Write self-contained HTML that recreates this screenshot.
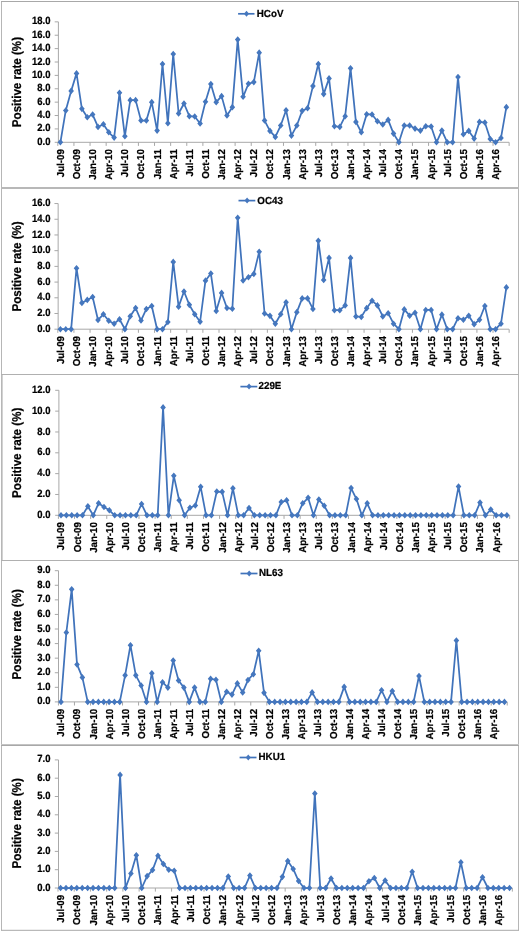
<!DOCTYPE html>
<html><head><meta charset="utf-8"><title>HCoV positive rates</title>
<style>
html,body{margin:0;padding:0;background:#fff;}
svg{will-change:transform;filter:blur(0.35px);}
svg text{text-rendering:geometricPrecision;stroke:#000;stroke-width:0.22px;stroke-linejoin:round;}
body{width:520px;height:932px;overflow:hidden;font-family:"Liberation Sans",sans-serif;}
</style></head><body>
<svg width="520" height="932" viewBox="0 0 520 932" style="display:block">
<rect x="0" y="0" width="520" height="932" fill="#fff"/>
<path d="M1.5 1.5V930.3M518.5 1.5V930.3" fill="none" stroke="#b6b6b6" stroke-width="1"/>
<path d="M1 1.5H519M1 930.3H519" fill="none" stroke="#a8a8a8" stroke-width="1"/>
<g stroke="#b8b8b8">
<line x1="1" x2="519" y1="188" y2="188" stroke-width="2"/>
<line x1="1" x2="519" y1="374.5" y2="374.5" stroke-width="1.2" stroke="#b0b0b0"/>
<line x1="1" x2="519" y1="560.5" y2="560.5" stroke-width="1.2" stroke="#b0b0b0"/>
<line x1="1" x2="519" y1="744.5" y2="744.5" stroke-width="1" stroke="#c4c4c4"/>
<line x1="1" x2="519" y1="745.5" y2="745.5" stroke-width="1" stroke="#a8a8a8"/>
<line x1="2.4" x2="2.4" y1="375" y2="560" stroke-width="0.9" stroke="#c6c6c6"/>
</g>
<g>
<path d="M58.40 21.85V142.30M57.90 142.30H509.05M54.70 142.30H58.40M54.70 128.92H58.40M54.70 115.53H58.40M54.70 102.15H58.40M54.70 88.77H58.40M54.70 75.38H58.40M54.70 62.00H58.40M54.70 48.62H58.40M54.70 35.23H58.40M54.70 21.85H58.40M57.81 142.30V145.90M73.93 142.30V145.90M90.05 142.30V145.90M106.17 142.30V145.90M122.29 142.30V145.90M138.41 142.30V145.90M154.53 142.30V145.90M170.65 142.30V145.90M186.77 142.30V145.90M202.88 142.30V145.90M219.00 142.30V145.90M235.12 142.30V145.90M251.24 142.30V145.90M267.36 142.30V145.90M283.48 142.30V145.90M299.60 142.30V145.90M315.72 142.30V145.90M331.84 142.30V145.90M347.96 142.30V145.90M364.07 142.30V145.90M380.19 142.30V145.90M396.31 142.30V145.90M412.43 142.30V145.90M428.55 142.30V145.90M444.67 142.30V145.90M460.79 142.30V145.90M476.91 142.30V145.90M493.03 142.30V145.90M509.15 142.30V145.90" fill="none" stroke="#a8a8a8" stroke-width="1"/>
<g font-family="'Liberation Sans', sans-serif" font-weight="bold" font-size="9.45" fill="#000" text-anchor="end">
<text transform="translate(50.4 144.85) scale(1 1.11)">0.0</text>
<text transform="translate(50.4 131.47) scale(1 1.11)">2.0</text>
<text transform="translate(50.4 118.08) scale(1 1.11)">4.0</text>
<text transform="translate(50.4 104.70) scale(1 1.11)">6.0</text>
<text transform="translate(50.4 91.32) scale(1 1.11)">8.0</text>
<text transform="translate(50.4 77.93) scale(1 1.11)">10.0</text>
<text transform="translate(50.4 64.55) scale(1 1.11)">12.0</text>
<text transform="translate(50.4 51.17) scale(1 1.11)">14.0</text>
<text transform="translate(50.4 37.78) scale(1 1.11)">16.0</text>
<text transform="translate(50.4 24.40) scale(1 1.11)">18.0</text>
</g>
<g font-family="'Liberation Sans', sans-serif" font-weight="bold" font-size="9.7" fill="#000" text-anchor="end">
<text transform="translate(63.85 149.15) rotate(-90) scale(1 1.04)">Jul-09</text>
<text transform="translate(79.97 149.15) rotate(-90) scale(1 1.04)">Oct-09</text>
<text transform="translate(96.09 149.15) rotate(-90) scale(1 1.04)">Jan-10</text>
<text transform="translate(112.21 149.15) rotate(-90) scale(1 1.04)">Apr-10</text>
<text transform="translate(128.33 149.15) rotate(-90) scale(1 1.04)">Jul-10</text>
<text transform="translate(144.44 149.15) rotate(-90) scale(1 1.04)">Oct-10</text>
<text transform="translate(160.56 149.15) rotate(-90) scale(1 1.04)">Jan-11</text>
<text transform="translate(176.68 149.15) rotate(-90) scale(1 1.04)">Apr-11</text>
<text transform="translate(192.80 149.15) rotate(-90) scale(1 1.04)">Jul-11</text>
<text transform="translate(208.92 149.15) rotate(-90) scale(1 1.04)">Oct-11</text>
<text transform="translate(225.04 149.15) rotate(-90) scale(1 1.04)">Jan-12</text>
<text transform="translate(241.16 149.15) rotate(-90) scale(1 1.04)">Apr-12</text>
<text transform="translate(257.28 149.15) rotate(-90) scale(1 1.04)">Jul-12</text>
<text transform="translate(273.40 149.15) rotate(-90) scale(1 1.04)">Oct-12</text>
<text transform="translate(289.52 149.15) rotate(-90) scale(1 1.04)">Jan-13</text>
<text transform="translate(305.63 149.15) rotate(-90) scale(1 1.04)">Apr-13</text>
<text transform="translate(321.75 149.15) rotate(-90) scale(1 1.04)">Jul-13</text>
<text transform="translate(337.87 149.15) rotate(-90) scale(1 1.04)">Oct-13</text>
<text transform="translate(353.99 149.15) rotate(-90) scale(1 1.04)">Jan-14</text>
<text transform="translate(370.11 149.15) rotate(-90) scale(1 1.04)">Apr-14</text>
<text transform="translate(386.23 149.15) rotate(-90) scale(1 1.04)">Jul-14</text>
<text transform="translate(402.35 149.15) rotate(-90) scale(1 1.04)">Oct-14</text>
<text transform="translate(418.47 149.15) rotate(-90) scale(1 1.04)">Jan-15</text>
<text transform="translate(434.59 149.15) rotate(-90) scale(1 1.04)">Apr-15</text>
<text transform="translate(450.71 149.15) rotate(-90) scale(1 1.04)">Jul-15</text>
<text transform="translate(466.82 149.15) rotate(-90) scale(1 1.04)">Oct-15</text>
<text transform="translate(482.94 149.15) rotate(-90) scale(1 1.04)">Jan-16</text>
<text transform="translate(499.06 149.15) rotate(-90) scale(1 1.04)">Apr-16</text>
</g>
<text transform="translate(20.6 82.08) rotate(-90) scale(1 1.1)" text-anchor="middle" font-family="'Liberation Sans', sans-serif" font-weight="bold" font-size="11.6" fill="#000">Positive rate (%)</text>
<path d="M238.1 13.8H254.5" stroke="#4073bb" stroke-width="1.7" fill="none"/>
<path d="M246.50 10.80L249.05 13.80L246.50 16.80L243.95 13.80Z" fill="#4577be"/>
<text transform="translate(256.8 16.9) scale(1 1.04)" font-family="'Liberation Sans', sans-serif" font-weight="bold" font-size="9.8" fill="#000">HCoV</text>
<path d="M60.40 142.30L65.77 110.45L71.15 90.91L76.52 73.38L81.89 108.84L87.27 117.21L92.64 114.53L98.01 126.91L103.38 124.23L108.76 132.26L114.13 137.62L119.50 92.78L124.88 136.28L130.25 100.14L135.62 100.14L141.00 120.55L146.37 120.55L151.74 102.15L157.11 130.59L162.49 64.01L167.86 123.23L173.23 53.97L178.61 113.53L183.98 103.49L189.35 116.20L194.73 116.54L200.10 123.56L205.47 101.82L210.84 84.08L216.22 102.15L221.59 96.13L226.96 115.53L232.34 107.17L237.71 39.58L243.08 96.80L248.46 83.75L253.83 82.08L259.20 52.63L264.57 120.55L269.95 130.92L275.32 136.95L280.69 125.57L286.07 110.18L291.44 135.61L296.81 125.57L302.19 110.85L307.56 108.17L312.93 86.09L318.30 64.01L323.68 94.12L329.05 78.39L334.42 126.24L339.80 126.91L345.17 116.20L350.54 68.36L355.91 121.89L361.29 132.26L366.66 114.20L372.03 114.53L377.41 121.22L382.78 124.57L388.15 119.88L393.53 133.60L398.90 142.30L404.27 125.57L409.64 125.57L415.02 128.58L420.39 130.59L425.76 126.24L431.14 126.57L436.51 142.30L441.88 130.59L447.26 142.30L452.63 142.30L458.00 77.06L463.38 134.27L468.75 130.92L474.12 138.62L479.49 121.89L484.87 122.56L490.24 138.95L495.61 142.30L500.99 137.95L506.36 107.17" fill="none" stroke="#4073bb" stroke-width="1.75" stroke-linejoin="round" stroke-linecap="round"/>
<path d="M60.40 139.00L63.20 142.30L60.40 145.60L57.59 142.30ZM65.77 107.15L68.58 110.45L65.77 113.75L62.97 110.45ZM71.15 87.61L73.95 90.91L71.15 94.21L68.34 90.91ZM76.52 70.08L79.32 73.38L76.52 76.68L73.71 73.38ZM81.89 105.54L84.70 108.84L81.89 112.14L79.09 108.84ZM87.27 113.91L90.07 117.21L87.27 120.51L84.46 117.21ZM92.64 111.23L95.44 114.53L92.64 117.83L89.83 114.53ZM98.01 123.61L100.82 126.91L98.01 130.21L95.21 126.91ZM103.38 120.93L106.19 124.23L103.38 127.53L100.58 124.23ZM108.76 128.96L111.56 132.26L108.76 135.56L105.95 132.26ZM114.13 134.32L116.94 137.62L114.13 140.92L111.32 137.62ZM119.50 89.48L122.31 92.78L119.50 96.08L116.70 92.78ZM124.88 132.98L127.68 136.28L124.88 139.58L122.07 136.28ZM130.25 96.84L133.05 100.14L130.25 103.44L127.44 100.14ZM135.62 96.84L138.43 100.14L135.62 103.44L132.82 100.14ZM141.00 117.25L143.80 120.55L141.00 123.85L138.19 120.55ZM146.37 117.25L149.17 120.55L146.37 123.85L143.56 120.55ZM151.74 98.85L154.55 102.15L151.74 105.45L148.94 102.15ZM157.11 127.29L159.92 130.59L157.11 133.89L154.31 130.59ZM162.49 60.71L165.29 64.01L162.49 67.31L159.68 64.01ZM167.86 119.93L170.67 123.23L167.86 126.53L165.06 123.23ZM173.23 50.67L176.04 53.97L173.23 57.27L170.43 53.97ZM178.61 110.23L181.41 113.53L178.61 116.83L175.80 113.53ZM183.98 100.19L186.78 103.49L183.98 106.79L181.17 103.49ZM189.35 112.90L192.16 116.20L189.35 119.50L186.55 116.20ZM194.73 113.24L197.53 116.54L194.73 119.84L191.92 116.54ZM200.10 120.26L202.90 123.56L200.10 126.86L197.29 123.56ZM205.47 98.52L208.28 101.82L205.47 105.12L202.67 101.82ZM210.84 80.78L213.65 84.08L210.84 87.38L208.04 84.08ZM216.22 98.85L219.02 102.15L216.22 105.45L213.41 102.15ZM221.59 92.83L224.40 96.13L221.59 99.43L218.78 96.13ZM226.96 112.23L229.77 115.53L226.96 118.83L224.16 115.53ZM232.34 103.87L235.14 107.17L232.34 110.47L229.53 107.17ZM237.71 36.28L240.51 39.58L237.71 42.88L234.90 39.58ZM243.08 93.50L245.89 96.80L243.08 100.10L240.28 96.80ZM248.46 80.45L251.26 83.75L248.46 87.05L245.65 83.75ZM253.83 78.78L256.63 82.08L253.83 85.38L251.02 82.08ZM259.20 49.33L262.01 52.63L259.20 55.93L256.40 52.63ZM264.57 117.25L267.38 120.55L264.57 123.85L261.77 120.55ZM269.95 127.62L272.75 130.92L269.95 134.22L267.14 130.92ZM275.32 133.65L278.12 136.95L275.32 140.25L272.51 136.95ZM280.69 122.27L283.50 125.57L280.69 128.87L277.89 125.57ZM286.07 106.88L288.87 110.18L286.07 113.48L283.26 110.18ZM291.44 132.31L294.24 135.61L291.44 138.91L288.63 135.61ZM296.81 122.27L299.62 125.57L296.81 128.87L294.01 125.57ZM302.19 107.55L304.99 110.85L302.19 114.15L299.38 110.85ZM307.56 104.87L310.36 108.17L307.56 111.47L304.75 108.17ZM312.93 82.79L315.74 86.09L312.93 89.39L310.13 86.09ZM318.30 60.71L321.11 64.01L318.30 67.31L315.50 64.01ZM323.68 90.82L326.48 94.12L323.68 97.42L320.87 94.12ZM329.05 75.09L331.86 78.39L329.05 81.69L326.25 78.39ZM334.42 122.94L337.23 126.24L334.42 129.54L331.62 126.24ZM339.80 123.61L342.60 126.91L339.80 130.21L336.99 126.91ZM345.17 112.90L347.97 116.20L345.17 119.50L342.36 116.20ZM350.54 65.06L353.35 68.36L350.54 71.66L347.74 68.36ZM355.91 118.59L358.72 121.89L355.91 125.19L353.11 121.89ZM361.29 128.96L364.09 132.26L361.29 135.56L358.48 132.26ZM366.66 110.90L369.47 114.20L366.66 117.50L363.86 114.20ZM372.03 111.23L374.84 114.53L372.03 117.83L369.23 114.53ZM377.41 117.92L380.21 121.22L377.41 124.52L374.60 121.22ZM382.78 121.27L385.58 124.57L382.78 127.87L379.97 124.57ZM388.15 116.58L390.96 119.88L388.15 123.18L385.35 119.88ZM393.53 130.30L396.33 133.60L393.53 136.90L390.72 133.60ZM398.90 139.00L401.70 142.30L398.90 145.60L396.09 142.30ZM404.27 122.27L407.08 125.57L404.27 128.87L401.47 125.57ZM409.64 122.27L412.45 125.57L409.64 128.87L406.84 125.57ZM415.02 125.28L417.82 128.58L415.02 131.88L412.21 128.58ZM420.39 127.29L423.20 130.59L420.39 133.89L417.59 130.59ZM425.76 122.94L428.57 126.24L425.76 129.54L422.96 126.24ZM431.14 123.27L433.94 126.57L431.14 129.87L428.33 126.57ZM436.51 139.00L439.31 142.30L436.51 145.60L433.70 142.30ZM441.88 127.29L444.69 130.59L441.88 133.89L439.08 130.59ZM447.26 139.00L450.06 142.30L447.26 145.60L444.45 142.30ZM452.63 139.00L455.43 142.30L452.63 145.60L449.82 142.30ZM458.00 73.76L460.81 77.06L458.00 80.36L455.20 77.06ZM463.38 130.97L466.18 134.27L463.38 137.57L460.57 134.27ZM468.75 127.62L471.55 130.92L468.75 134.22L465.94 130.92ZM474.12 135.32L476.93 138.62L474.12 141.92L471.32 138.62ZM479.49 118.59L482.30 121.89L479.49 125.19L476.69 121.89ZM484.87 119.26L487.67 122.56L484.87 125.86L482.06 122.56ZM490.24 135.65L493.05 138.95L490.24 142.25L487.44 138.95ZM495.61 139.00L498.42 142.30L495.61 145.60L492.81 142.30ZM500.99 134.65L503.79 137.95L500.99 141.25L498.18 137.95ZM506.36 103.87L509.16 107.17L506.36 110.47L503.55 107.17Z" fill="#4577be"/>
</g>
<g>
<path d="M58.15 203.55V329.20M57.65 329.20H509.05M54.45 329.20H58.15M54.45 313.49H58.15M54.45 297.79H58.15M54.45 282.08H58.15M54.45 266.38H58.15M54.45 250.67H58.15M54.45 234.96H58.15M54.45 219.26H58.15M54.45 203.55H58.15M57.81 329.20V332.80M73.93 329.20V332.80M90.05 329.20V332.80M106.17 329.20V332.80M122.29 329.20V332.80M138.41 329.20V332.80M154.53 329.20V332.80M170.65 329.20V332.80M186.77 329.20V332.80M202.88 329.20V332.80M219.00 329.20V332.80M235.12 329.20V332.80M251.24 329.20V332.80M267.36 329.20V332.80M283.48 329.20V332.80M299.60 329.20V332.80M315.72 329.20V332.80M331.84 329.20V332.80M347.96 329.20V332.80M364.07 329.20V332.80M380.19 329.20V332.80M396.31 329.20V332.80M412.43 329.20V332.80M428.55 329.20V332.80M444.67 329.20V332.80M460.79 329.20V332.80M476.91 329.20V332.80M493.03 329.20V332.80M509.15 329.20V332.80" fill="none" stroke="#a8a8a8" stroke-width="1"/>
<g font-family="'Liberation Sans', sans-serif" font-weight="bold" font-size="9.45" fill="#000" text-anchor="end">
<text transform="translate(50.4 331.75) scale(1 1.11)">0.0</text>
<text transform="translate(50.4 316.04) scale(1 1.11)">2.0</text>
<text transform="translate(50.4 300.34) scale(1 1.11)">4.0</text>
<text transform="translate(50.4 284.63) scale(1 1.11)">6.0</text>
<text transform="translate(50.4 268.93) scale(1 1.11)">8.0</text>
<text transform="translate(50.4 253.22) scale(1 1.11)">10.0</text>
<text transform="translate(50.4 237.51) scale(1 1.11)">12.0</text>
<text transform="translate(50.4 221.81) scale(1 1.11)">14.0</text>
<text transform="translate(50.4 206.10) scale(1 1.11)">16.0</text>
</g>
<g font-family="'Liberation Sans', sans-serif" font-weight="bold" font-size="9.7" fill="#000" text-anchor="end">
<text transform="translate(63.85 336.05) rotate(-90) scale(1 1.04)">Jul-09</text>
<text transform="translate(79.97 336.05) rotate(-90) scale(1 1.04)">Oct-09</text>
<text transform="translate(96.09 336.05) rotate(-90) scale(1 1.04)">Jan-10</text>
<text transform="translate(112.21 336.05) rotate(-90) scale(1 1.04)">Apr-10</text>
<text transform="translate(128.33 336.05) rotate(-90) scale(1 1.04)">Jul-10</text>
<text transform="translate(144.44 336.05) rotate(-90) scale(1 1.04)">Oct-10</text>
<text transform="translate(160.56 336.05) rotate(-90) scale(1 1.04)">Jan-11</text>
<text transform="translate(176.68 336.05) rotate(-90) scale(1 1.04)">Apr-11</text>
<text transform="translate(192.80 336.05) rotate(-90) scale(1 1.04)">Jul-11</text>
<text transform="translate(208.92 336.05) rotate(-90) scale(1 1.04)">Oct-11</text>
<text transform="translate(225.04 336.05) rotate(-90) scale(1 1.04)">Jan-12</text>
<text transform="translate(241.16 336.05) rotate(-90) scale(1 1.04)">Apr-12</text>
<text transform="translate(257.28 336.05) rotate(-90) scale(1 1.04)">Jul-12</text>
<text transform="translate(273.40 336.05) rotate(-90) scale(1 1.04)">Oct-12</text>
<text transform="translate(289.52 336.05) rotate(-90) scale(1 1.04)">Jan-13</text>
<text transform="translate(305.63 336.05) rotate(-90) scale(1 1.04)">Apr-13</text>
<text transform="translate(321.75 336.05) rotate(-90) scale(1 1.04)">Jul-13</text>
<text transform="translate(337.87 336.05) rotate(-90) scale(1 1.04)">Oct-13</text>
<text transform="translate(353.99 336.05) rotate(-90) scale(1 1.04)">Jan-14</text>
<text transform="translate(370.11 336.05) rotate(-90) scale(1 1.04)">Apr-14</text>
<text transform="translate(386.23 336.05) rotate(-90) scale(1 1.04)">Jul-14</text>
<text transform="translate(402.35 336.05) rotate(-90) scale(1 1.04)">Oct-14</text>
<text transform="translate(418.47 336.05) rotate(-90) scale(1 1.04)">Jan-15</text>
<text transform="translate(434.59 336.05) rotate(-90) scale(1 1.04)">Apr-15</text>
<text transform="translate(450.71 336.05) rotate(-90) scale(1 1.04)">Jul-15</text>
<text transform="translate(466.82 336.05) rotate(-90) scale(1 1.04)">Oct-15</text>
<text transform="translate(482.94 336.05) rotate(-90) scale(1 1.04)">Jan-16</text>
<text transform="translate(499.06 336.05) rotate(-90) scale(1 1.04)">Apr-16</text>
</g>
<text transform="translate(20.6 266.38) rotate(-90) scale(1 1.1)" text-anchor="middle" font-family="'Liberation Sans', sans-serif" font-weight="bold" font-size="11.6" fill="#000">Positive rate (%)</text>
<path d="M238.5 200.6H255.3" stroke="#4073bb" stroke-width="1.7" fill="none"/>
<path d="M247.10 197.60L249.65 200.60L247.10 203.60L244.55 200.60Z" fill="#4577be"/>
<text transform="translate(257.3 203.7) scale(1 1.04)" font-family="'Liberation Sans', sans-serif" font-weight="bold" font-size="9.8" fill="#000">OC43</text>
<path d="M60.40 329.20L65.77 329.20L71.15 329.20L76.52 268.18L81.89 302.89L87.27 299.91L92.64 297.00L98.01 319.93L103.38 314.28L108.76 320.72L114.13 323.70L119.50 319.23L124.88 329.20L130.25 316.24L135.62 308.00L141.00 320.56L146.37 308.94L151.74 305.95L157.11 329.20L162.49 329.20L167.86 321.98L173.23 261.90L178.61 306.66L183.98 291.50L189.35 304.86L194.73 314.28L200.10 321.74L205.47 280.67L210.84 273.44L216.22 310.98L221.59 292.92L226.96 308.00L232.34 308.78L237.71 217.69L243.08 280.51L248.46 277.21L253.83 273.91L259.20 251.69L264.57 313.49L269.95 315.85L275.32 323.70L280.69 314.28L286.07 302.19L291.44 329.20L296.81 312.16L302.19 298.42L307.56 298.42L312.93 308.94L318.30 240.70L323.68 279.96L329.05 257.89L334.42 310.20L339.80 310.20L345.17 305.41L350.54 257.89L355.91 316.48L361.29 316.95L366.66 308.15L372.03 300.69L377.41 305.41L382.78 316.48L388.15 313.18L393.53 323.70L398.90 329.20L404.27 309.41L409.64 315.69L415.02 312.71L420.39 329.20L425.76 309.96L431.14 309.96L436.51 329.20L441.88 314.67L447.26 329.20L452.63 329.20L458.00 318.21L463.38 319.78L468.75 315.69L474.12 324.17L479.49 319.78L484.87 305.95L490.24 329.20L495.61 329.20L500.99 323.70L506.36 287.42" fill="none" stroke="#4073bb" stroke-width="1.75" stroke-linejoin="round" stroke-linecap="round"/>
<path d="M60.40 325.90L63.20 329.20L60.40 332.50L57.59 329.20ZM65.77 325.90L68.58 329.20L65.77 332.50L62.97 329.20ZM71.15 325.90L73.95 329.20L71.15 332.50L68.34 329.20ZM76.52 264.88L79.32 268.18L76.52 271.48L73.71 268.18ZM81.89 299.59L84.70 302.89L81.89 306.19L79.09 302.89ZM87.27 296.61L90.07 299.91L87.27 303.21L84.46 299.91ZM92.64 293.70L95.44 297.00L92.64 300.30L89.83 297.00ZM98.01 316.63L100.82 319.93L98.01 323.23L95.21 319.93ZM103.38 310.98L106.19 314.28L103.38 317.58L100.58 314.28ZM108.76 317.42L111.56 320.72L108.76 324.02L105.95 320.72ZM114.13 320.40L116.94 323.70L114.13 327.00L111.32 323.70ZM119.50 315.93L122.31 319.23L119.50 322.53L116.70 319.23ZM124.88 325.90L127.68 329.20L124.88 332.50L122.07 329.20ZM130.25 312.94L133.05 316.24L130.25 319.54L127.44 316.24ZM135.62 304.70L138.43 308.00L135.62 311.30L132.82 308.00ZM141.00 317.26L143.80 320.56L141.00 323.86L138.19 320.56ZM146.37 305.64L149.17 308.94L146.37 312.24L143.56 308.94ZM151.74 302.65L154.55 305.95L151.74 309.25L148.94 305.95ZM157.11 325.90L159.92 329.20L157.11 332.50L154.31 329.20ZM162.49 325.90L165.29 329.20L162.49 332.50L159.68 329.20ZM167.86 318.68L170.67 321.98L167.86 325.28L165.06 321.98ZM173.23 258.60L176.04 261.90L173.23 265.20L170.43 261.90ZM178.61 303.36L181.41 306.66L178.61 309.96L175.80 306.66ZM183.98 288.20L186.78 291.50L183.98 294.81L181.17 291.50ZM189.35 301.56L192.16 304.86L189.35 308.16L186.55 304.86ZM194.73 310.98L197.53 314.28L194.73 317.58L191.92 314.28ZM200.10 318.44L202.90 321.74L200.10 325.04L197.29 321.74ZM205.47 277.37L208.28 280.67L205.47 283.97L202.67 280.67ZM210.84 270.14L213.65 273.44L210.84 276.74L208.04 273.44ZM216.22 307.68L219.02 310.98L216.22 314.28L213.41 310.98ZM221.59 289.62L224.40 292.92L221.59 296.22L218.78 292.92ZM226.96 304.70L229.77 308.00L226.96 311.30L224.16 308.00ZM232.34 305.48L235.14 308.78L232.34 312.08L229.53 308.78ZM237.71 214.39L240.51 217.69L237.71 220.99L234.90 217.69ZM243.08 277.21L245.89 280.51L243.08 283.81L240.28 280.51ZM248.46 273.91L251.26 277.21L248.46 280.51L245.65 277.21ZM253.83 270.61L256.63 273.91L253.83 277.21L251.02 273.91ZM259.20 248.39L262.01 251.69L259.20 254.99L256.40 251.69ZM264.57 310.19L267.38 313.49L264.57 316.79L261.77 313.49ZM269.95 312.55L272.75 315.85L269.95 319.15L267.14 315.85ZM275.32 320.40L278.12 323.70L275.32 327.00L272.51 323.70ZM280.69 310.98L283.50 314.28L280.69 317.58L277.89 314.28ZM286.07 298.89L288.87 302.19L286.07 305.49L283.26 302.19ZM291.44 325.90L294.24 329.20L291.44 332.50L288.63 329.20ZM296.81 308.86L299.62 312.16L296.81 315.46L294.01 312.16ZM302.19 295.12L304.99 298.42L302.19 301.72L299.38 298.42ZM307.56 295.12L310.36 298.42L307.56 301.72L304.75 298.42ZM312.93 305.64L315.74 308.94L312.93 312.24L310.13 308.94ZM318.30 237.40L321.11 240.70L318.30 244.00L315.50 240.70ZM323.68 276.66L326.48 279.96L323.68 283.26L320.87 279.96ZM329.05 254.59L331.86 257.89L329.05 261.19L326.25 257.89ZM334.42 306.90L337.23 310.20L334.42 313.50L331.62 310.20ZM339.80 306.90L342.60 310.20L339.80 313.50L336.99 310.20ZM345.17 302.11L347.97 305.41L345.17 308.71L342.36 305.41ZM350.54 254.59L353.35 257.89L350.54 261.19L347.74 257.89ZM355.91 313.18L358.72 316.48L355.91 319.78L353.11 316.48ZM361.29 313.65L364.09 316.95L361.29 320.25L358.48 316.95ZM366.66 304.85L369.47 308.15L366.66 311.45L363.86 308.15ZM372.03 297.39L374.84 300.69L372.03 303.99L369.23 300.69ZM377.41 302.11L380.21 305.41L377.41 308.71L374.60 305.41ZM382.78 313.18L385.58 316.48L382.78 319.78L379.97 316.48ZM388.15 309.88L390.96 313.18L388.15 316.48L385.35 313.18ZM393.53 320.40L396.33 323.70L393.53 327.00L390.72 323.70ZM398.90 325.90L401.70 329.20L398.90 332.50L396.09 329.20ZM404.27 306.11L407.08 309.41L404.27 312.71L401.47 309.41ZM409.64 312.39L412.45 315.69L409.64 318.99L406.84 315.69ZM415.02 309.41L417.82 312.71L415.02 316.01L412.21 312.71ZM420.39 325.90L423.20 329.20L420.39 332.50L417.59 329.20ZM425.76 306.66L428.57 309.96L425.76 313.26L422.96 309.96ZM431.14 306.66L433.94 309.96L431.14 313.26L428.33 309.96ZM436.51 325.90L439.31 329.20L436.51 332.50L433.70 329.20ZM441.88 311.37L444.69 314.67L441.88 317.97L439.08 314.67ZM447.26 325.90L450.06 329.20L447.26 332.50L444.45 329.20ZM452.63 325.90L455.43 329.20L452.63 332.50L449.82 329.20ZM458.00 314.91L460.81 318.21L458.00 321.51L455.20 318.21ZM463.38 316.48L466.18 319.78L463.38 323.08L460.57 319.78ZM468.75 312.39L471.55 315.69L468.75 318.99L465.94 315.69ZM474.12 320.87L476.93 324.17L474.12 327.47L471.32 324.17ZM479.49 316.48L482.30 319.78L479.49 323.08L476.69 319.78ZM484.87 302.65L487.67 305.95L484.87 309.25L482.06 305.95ZM490.24 325.90L493.05 329.20L490.24 332.50L487.44 329.20ZM495.61 325.90L498.42 329.20L495.61 332.50L492.81 329.20ZM500.99 320.40L503.79 323.70L500.99 327.00L498.18 323.70ZM506.36 284.12L509.16 287.42L506.36 290.72L503.55 287.42Z" fill="#4577be"/>
</g>
<g>
<path d="M58.90 390.30V515.30M58.40 515.30H509.56M55.20 515.30H58.90M55.20 494.47H58.90M55.20 473.63H58.90M55.20 452.80H58.90M55.20 431.97H58.90M55.20 411.13H58.90M55.20 390.30H58.90M58.41 515.30V518.90M74.53 515.30V518.90M90.65 515.30V518.90M106.76 515.30V518.90M122.88 515.30V518.90M138.99 515.30V518.90M155.11 515.30V518.90M171.23 515.30V518.90M187.34 515.30V518.90M203.46 515.30V518.90M219.57 515.30V518.90M235.69 515.30V518.90M251.81 515.30V518.90M267.92 515.30V518.90M284.04 515.30V518.90M300.15 515.30V518.90M316.27 515.30V518.90M332.39 515.30V518.90M348.50 515.30V518.90M364.62 515.30V518.90M380.73 515.30V518.90M396.85 515.30V518.90M412.97 515.30V518.90M429.08 515.30V518.90M445.20 515.30V518.90M461.31 515.30V518.90M477.43 515.30V518.90M493.55 515.30V518.90M509.66 515.30V518.90" fill="none" stroke="#a8a8a8" stroke-width="1"/>
<g font-family="'Liberation Sans', sans-serif" font-weight="bold" font-size="9.45" fill="#000" text-anchor="end">
<text transform="translate(50.4 517.85) scale(1 1.11)">0.0</text>
<text transform="translate(50.4 497.02) scale(1 1.11)">2.0</text>
<text transform="translate(50.4 476.18) scale(1 1.11)">4.0</text>
<text transform="translate(50.4 455.35) scale(1 1.11)">6.0</text>
<text transform="translate(50.4 434.52) scale(1 1.11)">8.0</text>
<text transform="translate(50.4 413.68) scale(1 1.11)">10.0</text>
<text transform="translate(50.4 392.85) scale(1 1.11)">12.0</text>
</g>
<g font-family="'Liberation Sans', sans-serif" font-weight="bold" font-size="9.7" fill="#000" text-anchor="end">
<text transform="translate(64.45 522.15) rotate(-90) scale(1 1.04)">Jul-09</text>
<text transform="translate(80.57 522.15) rotate(-90) scale(1 1.04)">Oct-09</text>
<text transform="translate(96.68 522.15) rotate(-90) scale(1 1.04)">Jan-10</text>
<text transform="translate(112.80 522.15) rotate(-90) scale(1 1.04)">Apr-10</text>
<text transform="translate(128.91 522.15) rotate(-90) scale(1 1.04)">Jul-10</text>
<text transform="translate(145.03 522.15) rotate(-90) scale(1 1.04)">Oct-10</text>
<text transform="translate(161.15 522.15) rotate(-90) scale(1 1.04)">Jan-11</text>
<text transform="translate(177.26 522.15) rotate(-90) scale(1 1.04)">Apr-11</text>
<text transform="translate(193.38 522.15) rotate(-90) scale(1 1.04)">Jul-11</text>
<text transform="translate(209.49 522.15) rotate(-90) scale(1 1.04)">Oct-11</text>
<text transform="translate(225.61 522.15) rotate(-90) scale(1 1.04)">Jan-12</text>
<text transform="translate(241.73 522.15) rotate(-90) scale(1 1.04)">Apr-12</text>
<text transform="translate(257.84 522.15) rotate(-90) scale(1 1.04)">Jul-12</text>
<text transform="translate(273.96 522.15) rotate(-90) scale(1 1.04)">Oct-12</text>
<text transform="translate(290.07 522.15) rotate(-90) scale(1 1.04)">Jan-13</text>
<text transform="translate(306.19 522.15) rotate(-90) scale(1 1.04)">Apr-13</text>
<text transform="translate(322.31 522.15) rotate(-90) scale(1 1.04)">Jul-13</text>
<text transform="translate(338.42 522.15) rotate(-90) scale(1 1.04)">Oct-13</text>
<text transform="translate(354.54 522.15) rotate(-90) scale(1 1.04)">Jan-14</text>
<text transform="translate(370.65 522.15) rotate(-90) scale(1 1.04)">Apr-14</text>
<text transform="translate(386.77 522.15) rotate(-90) scale(1 1.04)">Jul-14</text>
<text transform="translate(402.89 522.15) rotate(-90) scale(1 1.04)">Oct-14</text>
<text transform="translate(419.00 522.15) rotate(-90) scale(1 1.04)">Jan-15</text>
<text transform="translate(435.12 522.15) rotate(-90) scale(1 1.04)">Apr-15</text>
<text transform="translate(451.23 522.15) rotate(-90) scale(1 1.04)">Jul-15</text>
<text transform="translate(467.35 522.15) rotate(-90) scale(1 1.04)">Oct-15</text>
<text transform="translate(483.47 522.15) rotate(-90) scale(1 1.04)">Jan-16</text>
<text transform="translate(499.58 522.15) rotate(-90) scale(1 1.04)">Apr-16</text>
</g>
<text transform="translate(20.6 452.80) rotate(-90) scale(1 1.1)" text-anchor="middle" font-family="'Liberation Sans', sans-serif" font-weight="bold" font-size="11.6" fill="#000">Positive rate (%)</text>
<path d="M240.4 386.6H257.3" stroke="#4073bb" stroke-width="1.7" fill="none"/>
<path d="M249.05 383.60L251.60 386.60L249.05 389.60L246.50 386.60Z" fill="#4577be"/>
<text transform="translate(258.5 389.4) scale(1 1.04)" font-family="'Liberation Sans', sans-serif" font-weight="bold" font-size="9.8" fill="#000">229E</text>
<path d="M61.00 515.30L66.37 515.30L71.74 515.30L77.12 515.30L82.49 515.30L87.86 506.34L93.23 515.30L98.60 503.32L103.98 506.97L109.35 510.30L114.72 515.30L120.09 515.30L125.46 515.30L130.84 515.30L136.21 515.30L141.58 504.05L146.95 515.30L152.32 515.30L157.70 515.30L163.07 407.38L168.44 515.30L173.81 475.82L179.18 500.30L184.56 515.30L189.93 507.80L195.30 505.51L200.67 486.86L206.04 515.30L211.42 515.30L216.79 491.55L222.16 491.86L227.53 515.30L232.90 488.32L238.28 515.30L243.65 515.30L249.02 508.01L254.39 515.30L259.76 515.30L265.14 515.30L270.51 515.30L275.88 515.30L281.25 502.07L286.62 500.30L292.00 515.30L297.37 515.30L302.74 503.32L308.11 497.80L313.48 515.30L318.86 499.57L324.23 505.82L329.60 515.30L334.97 515.30L340.34 515.30L345.72 515.30L351.09 488.11L356.46 499.05L361.83 515.30L367.20 503.32L372.58 515.30L377.95 515.30L383.32 515.30L388.69 515.30L394.06 515.30L399.44 515.30L404.81 515.30L410.18 515.30L415.55 515.30L420.92 515.30L426.30 515.30L431.67 515.30L437.04 515.30L442.41 515.30L447.78 515.30L453.16 515.30L458.53 486.55L463.90 515.30L469.27 515.30L474.64 515.30L480.02 502.59L485.39 515.30L490.76 509.57L496.13 515.30L501.50 515.30L506.88 515.30" fill="none" stroke="#4073bb" stroke-width="1.75" stroke-linejoin="round" stroke-linecap="round"/>
<path d="M61.00 512.00L63.80 515.30L61.00 518.60L58.20 515.30ZM66.37 512.00L69.18 515.30L66.37 518.60L63.57 515.30ZM71.74 512.00L74.55 515.30L71.74 518.60L68.94 515.30ZM77.12 512.00L79.92 515.30L77.12 518.60L74.31 515.30ZM82.49 512.00L85.29 515.30L82.49 518.60L79.68 515.30ZM87.86 503.04L90.66 506.34L87.86 509.64L85.06 506.34ZM93.23 512.00L96.04 515.30L93.23 518.60L90.43 515.30ZM98.60 500.02L101.41 503.32L98.60 506.62L95.80 503.32ZM103.98 503.67L106.78 506.97L103.98 510.27L101.17 506.97ZM109.35 507.00L112.15 510.30L109.35 513.60L106.54 510.30ZM114.72 512.00L117.53 515.30L114.72 518.60L111.91 515.30ZM120.09 512.00L122.90 515.30L120.09 518.60L117.29 515.30ZM125.46 512.00L128.27 515.30L125.46 518.60L122.66 515.30ZM130.84 512.00L133.64 515.30L130.84 518.60L128.03 515.30ZM136.21 512.00L139.01 515.30L136.21 518.60L133.40 515.30ZM141.58 500.75L144.38 504.05L141.58 507.35L138.77 504.05ZM146.95 512.00L149.76 515.30L146.95 518.60L144.15 515.30ZM152.32 512.00L155.13 515.30L152.32 518.60L149.52 515.30ZM157.70 512.00L160.50 515.30L157.70 518.60L154.89 515.30ZM163.07 404.08L165.87 407.38L163.07 410.68L160.26 407.38ZM168.44 512.00L171.25 515.30L168.44 518.60L165.63 515.30ZM173.81 472.52L176.62 475.82L173.81 479.12L171.01 475.82ZM179.18 497.00L181.99 500.30L179.18 503.60L176.38 500.30ZM184.56 512.00L187.36 515.30L184.56 518.60L181.75 515.30ZM189.93 504.50L192.73 507.80L189.93 511.10L187.12 507.80ZM195.30 502.21L198.11 505.51L195.30 508.81L192.50 505.51ZM200.67 483.56L203.48 486.86L200.67 490.16L197.87 486.86ZM206.04 512.00L208.85 515.30L206.04 518.60L203.24 515.30ZM211.42 512.00L214.22 515.30L211.42 518.60L208.61 515.30ZM216.79 488.25L219.59 491.55L216.79 494.85L213.98 491.55ZM222.16 488.56L224.97 491.86L222.16 495.16L219.35 491.86ZM227.53 512.00L230.34 515.30L227.53 518.60L224.73 515.30ZM232.90 485.02L235.71 488.32L232.90 491.62L230.10 488.32ZM238.28 512.00L241.08 515.30L238.28 518.60L235.47 515.30ZM243.65 512.00L246.45 515.30L243.65 518.60L240.84 515.30ZM249.02 504.71L251.82 508.01L249.02 511.31L246.21 508.01ZM254.39 512.00L257.20 515.30L254.39 518.60L251.59 515.30ZM259.76 512.00L262.57 515.30L259.76 518.60L256.96 515.30ZM265.14 512.00L267.94 515.30L265.14 518.60L262.33 515.30ZM270.51 512.00L273.31 515.30L270.51 518.60L267.70 515.30ZM275.88 512.00L278.69 515.30L275.88 518.60L273.07 515.30ZM281.25 498.77L284.06 502.07L281.25 505.37L278.45 502.07ZM286.62 497.00L289.43 500.30L286.62 503.60L283.82 500.30ZM292.00 512.00L294.80 515.30L292.00 518.60L289.19 515.30ZM297.37 512.00L300.17 515.30L297.37 518.60L294.56 515.30ZM302.74 500.02L305.55 503.32L302.74 506.62L299.94 503.32ZM308.11 494.50L310.92 497.80L308.11 501.10L305.31 497.80ZM313.48 512.00L316.29 515.30L313.48 518.60L310.68 515.30ZM318.86 496.27L321.66 499.57L318.86 502.87L316.05 499.57ZM324.23 502.52L327.03 505.82L324.23 509.12L321.42 505.82ZM329.60 512.00L332.41 515.30L329.60 518.60L326.80 515.30ZM334.97 512.00L337.78 515.30L334.97 518.60L332.17 515.30ZM340.34 512.00L343.15 515.30L340.34 518.60L337.54 515.30ZM345.72 512.00L348.52 515.30L345.72 518.60L342.91 515.30ZM351.09 484.81L353.89 488.11L351.09 491.41L348.28 488.11ZM356.46 495.75L359.26 499.05L356.46 502.35L353.65 499.05ZM361.83 512.00L364.64 515.30L361.83 518.60L359.03 515.30ZM367.20 500.02L370.01 503.32L367.20 506.62L364.40 503.32ZM372.58 512.00L375.38 515.30L372.58 518.60L369.77 515.30ZM377.95 512.00L380.75 515.30L377.95 518.60L375.14 515.30ZM383.32 512.00L386.12 515.30L383.32 518.60L380.51 515.30ZM388.69 512.00L391.50 515.30L388.69 518.60L385.89 515.30ZM394.06 512.00L396.87 515.30L394.06 518.60L391.26 515.30ZM399.44 512.00L402.24 515.30L399.44 518.60L396.63 515.30ZM404.81 512.00L407.61 515.30L404.81 518.60L402.00 515.30ZM410.18 512.00L412.99 515.30L410.18 518.60L407.38 515.30ZM415.55 512.00L418.36 515.30L415.55 518.60L412.75 515.30ZM420.92 512.00L423.73 515.30L420.92 518.60L418.12 515.30ZM426.30 512.00L429.10 515.30L426.30 518.60L423.49 515.30ZM431.67 512.00L434.47 515.30L431.67 518.60L428.86 515.30ZM437.04 512.00L439.84 515.30L437.04 518.60L434.23 515.30ZM442.41 512.00L445.22 515.30L442.41 518.60L439.61 515.30ZM447.78 512.00L450.59 515.30L447.78 518.60L444.98 515.30ZM453.16 512.00L455.96 515.30L453.16 518.60L450.35 515.30ZM458.53 483.25L461.33 486.55L458.53 489.85L455.72 486.55ZM463.90 512.00L466.70 515.30L463.90 518.60L461.09 515.30ZM469.27 512.00L472.08 515.30L469.27 518.60L466.47 515.30ZM474.64 512.00L477.45 515.30L474.64 518.60L471.84 515.30ZM480.02 499.29L482.82 502.59L480.02 505.89L477.21 502.59ZM485.39 512.00L488.19 515.30L485.39 518.60L482.58 515.30ZM490.76 506.27L493.56 509.57L490.76 512.87L487.95 509.57ZM496.13 512.00L498.94 515.30L496.13 518.60L493.33 515.30ZM501.50 512.00L504.31 515.30L501.50 518.60L498.70 515.30ZM506.88 512.00L509.68 515.30L506.88 518.60L504.07 515.30Z" fill="#4577be"/>
</g>
<g>
<path d="M58.50 570.70V701.90M58.00 701.90H507.14M54.80 701.90H58.50M54.80 687.32H58.50M54.80 672.74H58.50M54.80 658.17H58.50M54.80 643.59H58.50M54.80 629.01H58.50M54.80 614.43H58.50M54.80 599.86H58.50M54.80 585.28H58.50M54.80 570.70H58.50M58.43 701.90V705.50M74.46 701.90V705.50M90.49 701.90V705.50M106.52 701.90V705.50M122.54 701.90V705.50M138.57 701.90V705.50M154.60 701.90V705.50M170.63 701.90V705.50M186.66 701.90V705.50M202.69 701.90V705.50M218.72 701.90V705.50M234.75 701.90V705.50M250.78 701.90V705.50M266.81 701.90V705.50M282.83 701.90V705.50M298.86 701.90V705.50M314.89 701.90V705.50M330.92 701.90V705.50M346.95 701.90V705.50M362.98 701.90V705.50M379.01 701.90V705.50M395.04 701.90V705.50M411.07 701.90V705.50M427.10 701.90V705.50M443.12 701.90V705.50M459.15 701.90V705.50M475.18 701.90V705.50M491.21 701.90V705.50M507.24 701.90V705.50" fill="none" stroke="#a8a8a8" stroke-width="1"/>
<g font-family="'Liberation Sans', sans-serif" font-weight="bold" font-size="9.45" fill="#000" text-anchor="end">
<text transform="translate(50.4 704.45) scale(1 1.11)">0.0</text>
<text transform="translate(50.4 689.87) scale(1 1.11)">1.0</text>
<text transform="translate(50.4 675.29) scale(1 1.11)">2.0</text>
<text transform="translate(50.4 660.72) scale(1 1.11)">3.0</text>
<text transform="translate(50.4 646.14) scale(1 1.11)">4.0</text>
<text transform="translate(50.4 631.56) scale(1 1.11)">5.0</text>
<text transform="translate(50.4 616.98) scale(1 1.11)">6.0</text>
<text transform="translate(50.4 602.41) scale(1 1.11)">7.0</text>
<text transform="translate(50.4 587.83) scale(1 1.11)">8.0</text>
<text transform="translate(50.4 573.25) scale(1 1.11)">9.0</text>
</g>
<g font-family="'Liberation Sans', sans-serif" font-weight="bold" font-size="9.7" fill="#000" text-anchor="end">
<text transform="translate(64.45 708.75) rotate(-90) scale(1 1.04)">Jul-09</text>
<text transform="translate(80.48 708.75) rotate(-90) scale(1 1.04)">Oct-09</text>
<text transform="translate(96.51 708.75) rotate(-90) scale(1 1.04)">Jan-10</text>
<text transform="translate(112.54 708.75) rotate(-90) scale(1 1.04)">Apr-10</text>
<text transform="translate(128.57 708.75) rotate(-90) scale(1 1.04)">Jul-10</text>
<text transform="translate(144.59 708.75) rotate(-90) scale(1 1.04)">Oct-10</text>
<text transform="translate(160.62 708.75) rotate(-90) scale(1 1.04)">Jan-11</text>
<text transform="translate(176.65 708.75) rotate(-90) scale(1 1.04)">Apr-11</text>
<text transform="translate(192.68 708.75) rotate(-90) scale(1 1.04)">Jul-11</text>
<text transform="translate(208.71 708.75) rotate(-90) scale(1 1.04)">Oct-11</text>
<text transform="translate(224.74 708.75) rotate(-90) scale(1 1.04)">Jan-12</text>
<text transform="translate(240.77 708.75) rotate(-90) scale(1 1.04)">Apr-12</text>
<text transform="translate(256.80 708.75) rotate(-90) scale(1 1.04)">Jul-12</text>
<text transform="translate(272.83 708.75) rotate(-90) scale(1 1.04)">Oct-12</text>
<text transform="translate(288.86 708.75) rotate(-90) scale(1 1.04)">Jan-13</text>
<text transform="translate(304.88 708.75) rotate(-90) scale(1 1.04)">Apr-13</text>
<text transform="translate(320.91 708.75) rotate(-90) scale(1 1.04)">Jul-13</text>
<text transform="translate(336.94 708.75) rotate(-90) scale(1 1.04)">Oct-13</text>
<text transform="translate(352.97 708.75) rotate(-90) scale(1 1.04)">Jan-14</text>
<text transform="translate(369.00 708.75) rotate(-90) scale(1 1.04)">Apr-14</text>
<text transform="translate(385.03 708.75) rotate(-90) scale(1 1.04)">Jul-14</text>
<text transform="translate(401.06 708.75) rotate(-90) scale(1 1.04)">Oct-14</text>
<text transform="translate(417.09 708.75) rotate(-90) scale(1 1.04)">Jan-15</text>
<text transform="translate(433.12 708.75) rotate(-90) scale(1 1.04)">Apr-15</text>
<text transform="translate(449.15 708.75) rotate(-90) scale(1 1.04)">Jul-15</text>
<text transform="translate(465.18 708.75) rotate(-90) scale(1 1.04)">Oct-15</text>
<text transform="translate(481.20 708.75) rotate(-90) scale(1 1.04)">Jan-16</text>
<text transform="translate(497.23 708.75) rotate(-90) scale(1 1.04)">Apr-16</text>
</g>
<text transform="translate(20.6 634.30) rotate(-90) scale(1 1.1)" text-anchor="middle" font-family="'Liberation Sans', sans-serif" font-weight="bold" font-size="11.6" fill="#000">Positive rate (%)</text>
<path d="M240.5 573.5H257.5" stroke="#4073bb" stroke-width="1.7" fill="none"/>
<path d="M249.20 570.50L251.75 573.50L249.20 576.50L246.65 573.50Z" fill="#4577be"/>
<text transform="translate(258.95 576.45) scale(1 1.04)" font-family="'Liberation Sans', sans-serif" font-weight="bold" font-size="9.8" fill="#000">NL63</text>
<path d="M61.00 701.90L66.34 632.51L71.69 589.36L77.03 664.44L82.37 677.41L87.72 701.90L93.06 701.90L98.40 701.90L103.74 701.90L109.09 701.90L114.43 701.90L119.77 701.90L125.12 675.37L130.46 645.19L135.80 675.37L141.14 685.43L146.49 701.90L151.83 673.18L157.17 701.90L162.52 682.22L167.86 687.61L173.20 660.50L178.55 680.47L183.89 687.61L189.23 701.90L194.57 687.61L199.92 701.90L205.26 701.90L210.60 678.87L215.95 679.74L221.29 701.90L226.63 691.70L231.98 694.61L237.32 683.39L242.66 692.42L248.00 680.03L253.35 674.20L258.69 650.73L264.03 692.86L269.38 701.90L274.72 701.90L280.06 701.90L285.41 701.90L290.75 701.90L296.09 701.90L301.44 701.90L306.78 701.90L312.12 692.42L317.46 701.90L322.81 701.90L328.15 701.90L333.49 701.90L338.84 701.90L344.18 686.88L349.52 701.90L354.87 701.90L360.21 701.90L365.55 701.90L370.89 701.90L376.24 701.90L381.58 690.24L386.92 701.90L392.27 691.11L397.61 701.90L402.95 701.90L408.30 701.90L413.64 701.90L418.98 675.95L424.32 701.90L429.67 701.90L435.01 701.90L440.35 701.90L445.70 701.90L451.04 701.90L456.38 640.53L461.73 701.90L467.07 701.90L472.41 701.90L477.75 701.90L483.10 701.90L488.44 701.90L493.78 701.90L499.13 701.90L504.47 701.90" fill="none" stroke="#4073bb" stroke-width="1.75" stroke-linejoin="round" stroke-linecap="round"/>
<path d="M61.00 698.60L63.80 701.90L61.00 705.20L58.20 701.90ZM66.34 629.21L69.15 632.51L66.34 635.81L63.54 632.51ZM71.69 586.06L74.49 589.36L71.69 592.66L68.88 589.36ZM77.03 661.14L79.83 664.44L77.03 667.74L74.22 664.44ZM82.37 674.11L85.18 677.41L82.37 680.71L79.57 677.41ZM87.72 698.60L90.52 701.90L87.72 705.20L84.91 701.90ZM93.06 698.60L95.86 701.90L93.06 705.20L90.25 701.90ZM98.40 698.60L101.21 701.90L98.40 705.20L95.60 701.90ZM103.74 698.60L106.55 701.90L103.74 705.20L100.94 701.90ZM109.09 698.60L111.89 701.90L109.09 705.20L106.28 701.90ZM114.43 698.60L117.24 701.90L114.43 705.20L111.62 701.90ZM119.77 698.60L122.58 701.90L119.77 705.20L116.97 701.90ZM125.12 672.07L127.92 675.37L125.12 678.67L122.31 675.37ZM130.46 641.89L133.26 645.19L130.46 648.49L127.65 645.19ZM135.80 672.07L138.61 675.37L135.80 678.67L133.00 675.37ZM141.14 682.13L143.95 685.43L141.14 688.73L138.34 685.43ZM146.49 698.60L149.29 701.90L146.49 705.20L143.68 701.90ZM151.83 669.88L154.64 673.18L151.83 676.48L149.03 673.18ZM157.17 698.60L159.98 701.90L157.17 705.20L154.37 701.90ZM162.52 678.92L165.32 682.22L162.52 685.52L159.71 682.22ZM167.86 684.31L170.67 687.61L167.86 690.91L165.06 687.61ZM173.20 657.20L176.01 660.50L173.20 663.80L170.40 660.50ZM178.55 677.17L181.35 680.47L178.55 683.77L175.74 680.47ZM183.89 684.31L186.69 687.61L183.89 690.91L181.08 687.61ZM189.23 698.60L192.04 701.90L189.23 705.20L186.43 701.90ZM194.57 684.31L197.38 687.61L194.57 690.91L191.77 687.61ZM199.92 698.60L202.72 701.90L199.92 705.20L197.11 701.90ZM205.26 698.60L208.07 701.90L205.26 705.20L202.46 701.90ZM210.60 675.57L213.41 678.87L210.60 682.17L207.80 678.87ZM215.95 676.44L218.75 679.74L215.95 683.04L213.14 679.74ZM221.29 698.60L224.09 701.90L221.29 705.20L218.48 701.90ZM226.63 688.40L229.44 691.70L226.63 695.00L223.83 691.70ZM231.98 691.31L234.78 694.61L231.98 697.91L229.17 694.61ZM237.32 680.09L240.12 683.39L237.32 686.69L234.51 683.39ZM242.66 689.12L245.47 692.42L242.66 695.72L239.86 692.42ZM248.00 676.73L250.81 680.03L248.00 683.33L245.20 680.03ZM253.35 670.90L256.15 674.20L253.35 677.50L250.54 674.20ZM258.69 647.43L261.50 650.73L258.69 654.03L255.89 650.73ZM264.03 689.56L266.84 692.86L264.03 696.16L261.23 692.86ZM269.38 698.60L272.18 701.90L269.38 705.20L266.57 701.90ZM274.72 698.60L277.53 701.90L274.72 705.20L271.92 701.90ZM280.06 698.60L282.87 701.90L280.06 705.20L277.26 701.90ZM285.41 698.60L288.21 701.90L285.41 705.20L282.60 701.90ZM290.75 698.60L293.55 701.90L290.75 705.20L287.94 701.90ZM296.09 698.60L298.90 701.90L296.09 705.20L293.29 701.90ZM301.44 698.60L304.24 701.90L301.44 705.20L298.63 701.90ZM306.78 698.60L309.58 701.90L306.78 705.20L303.97 701.90ZM312.12 689.12L314.93 692.42L312.12 695.72L309.32 692.42ZM317.46 698.60L320.27 701.90L317.46 705.20L314.66 701.90ZM322.81 698.60L325.61 701.90L322.81 705.20L320.00 701.90ZM328.15 698.60L330.95 701.90L328.15 705.20L325.34 701.90ZM333.49 698.60L336.30 701.90L333.49 705.20L330.69 701.90ZM338.84 698.60L341.64 701.90L338.84 705.20L336.03 701.90ZM344.18 683.58L346.98 686.88L344.18 690.18L341.37 686.88ZM349.52 698.60L352.33 701.90L349.52 705.20L346.72 701.90ZM354.87 698.60L357.67 701.90L354.87 705.20L352.06 701.90ZM360.21 698.60L363.01 701.90L360.21 705.20L357.40 701.90ZM365.55 698.60L368.36 701.90L365.55 705.20L362.75 701.90ZM370.89 698.60L373.70 701.90L370.89 705.20L368.09 701.90ZM376.24 698.60L379.04 701.90L376.24 705.20L373.43 701.90ZM381.58 686.94L384.38 690.24L381.58 693.54L378.77 690.24ZM386.92 698.60L389.73 701.90L386.92 705.20L384.12 701.90ZM392.27 687.81L395.07 691.11L392.27 694.41L389.46 691.11ZM397.61 698.60L400.41 701.90L397.61 705.20L394.80 701.90ZM402.95 698.60L405.76 701.90L402.95 705.20L400.15 701.90ZM408.30 698.60L411.10 701.90L408.30 705.20L405.49 701.90ZM413.64 698.60L416.44 701.90L413.64 705.20L410.83 701.90ZM418.98 672.65L421.79 675.95L418.98 679.25L416.18 675.95ZM424.32 698.60L427.13 701.90L424.32 705.20L421.52 701.90ZM429.67 698.60L432.47 701.90L429.67 705.20L426.86 701.90ZM435.01 698.60L437.81 701.90L435.01 705.20L432.20 701.90ZM440.35 698.60L443.16 701.90L440.35 705.20L437.55 701.90ZM445.70 698.60L448.50 701.90L445.70 705.20L442.89 701.90ZM451.04 698.60L453.84 701.90L451.04 705.20L448.23 701.90ZM456.38 637.23L459.19 640.53L456.38 643.83L453.58 640.53ZM461.73 698.60L464.53 701.90L461.73 705.20L458.92 701.90ZM467.07 698.60L469.87 701.90L467.07 705.20L464.26 701.90ZM472.41 698.60L475.22 701.90L472.41 705.20L469.61 701.90ZM477.75 698.60L480.56 701.90L477.75 705.20L474.95 701.90ZM483.10 698.60L485.90 701.90L483.10 705.20L480.29 701.90ZM488.44 698.60L491.25 701.90L488.44 705.20L485.63 701.90ZM493.78 698.60L496.59 701.90L493.78 705.20L490.98 701.90ZM499.13 698.60L501.93 701.90L499.13 705.20L496.32 701.90ZM504.47 698.60L507.27 701.90L504.47 705.20L501.66 701.90Z" fill="#4577be"/>
</g>
<g>
<path d="M58.50 759.90V888.00M58.00 888.00H512.25M54.80 888.00H58.50M54.80 869.70H58.50M54.80 851.40H58.50M54.80 833.10H58.50M54.80 814.80H58.50M54.80 796.50H58.50M54.80 778.20H58.50M54.80 759.90H58.50M58.00 888.00V891.60M74.22 888.00V891.60M90.45 888.00V891.60M106.68 888.00V891.60M122.90 888.00V891.60M139.13 888.00V891.60M155.36 888.00V891.60M171.58 888.00V891.60M187.81 888.00V891.60M204.04 888.00V891.60M220.27 888.00V891.60M236.49 888.00V891.60M252.72 888.00V891.60M268.95 888.00V891.60M285.17 888.00V891.60M301.40 888.00V891.60M317.63 888.00V891.60M333.85 888.00V891.60M350.08 888.00V891.60M366.31 888.00V891.60M382.54 888.00V891.60M398.76 888.00V891.60M414.99 888.00V891.60M431.22 888.00V891.60M447.44 888.00V891.60M463.67 888.00V891.60M479.90 888.00V891.60M496.12 888.00V891.60M512.35 888.00V891.60" fill="none" stroke="#a8a8a8" stroke-width="1"/>
<g font-family="'Liberation Sans', sans-serif" font-weight="bold" font-size="9.45" fill="#000" text-anchor="end">
<text transform="translate(50.4 890.55) scale(1 1.11)">0.0</text>
<text transform="translate(50.4 872.25) scale(1 1.11)">1.0</text>
<text transform="translate(50.4 853.95) scale(1 1.11)">2.0</text>
<text transform="translate(50.4 835.65) scale(1 1.11)">3.0</text>
<text transform="translate(50.4 817.35) scale(1 1.11)">4.0</text>
<text transform="translate(50.4 799.05) scale(1 1.11)">5.0</text>
<text transform="translate(50.4 780.75) scale(1 1.11)">6.0</text>
<text transform="translate(50.4 762.45) scale(1 1.11)">7.0</text>
</g>
<g font-family="'Liberation Sans', sans-serif" font-weight="bold" font-size="9.7" fill="#000" text-anchor="end">
<text transform="translate(64.05 894.85) rotate(-90) scale(1 1.04)">Jul-09</text>
<text transform="translate(80.28 894.85) rotate(-90) scale(1 1.04)">Oct-09</text>
<text transform="translate(96.50 894.85) rotate(-90) scale(1 1.04)">Jan-10</text>
<text transform="translate(112.73 894.85) rotate(-90) scale(1 1.04)">Apr-10</text>
<text transform="translate(128.96 894.85) rotate(-90) scale(1 1.04)">Jul-10</text>
<text transform="translate(145.18 894.85) rotate(-90) scale(1 1.04)">Oct-10</text>
<text transform="translate(161.41 894.85) rotate(-90) scale(1 1.04)">Jan-11</text>
<text transform="translate(177.64 894.85) rotate(-90) scale(1 1.04)">Apr-11</text>
<text transform="translate(193.87 894.85) rotate(-90) scale(1 1.04)">Jul-11</text>
<text transform="translate(210.09 894.85) rotate(-90) scale(1 1.04)">Oct-11</text>
<text transform="translate(226.32 894.85) rotate(-90) scale(1 1.04)">Jan-12</text>
<text transform="translate(242.55 894.85) rotate(-90) scale(1 1.04)">Apr-12</text>
<text transform="translate(258.77 894.85) rotate(-90) scale(1 1.04)">Jul-12</text>
<text transform="translate(275.00 894.85) rotate(-90) scale(1 1.04)">Oct-12</text>
<text transform="translate(291.23 894.85) rotate(-90) scale(1 1.04)">Jan-13</text>
<text transform="translate(307.45 894.85) rotate(-90) scale(1 1.04)">Apr-13</text>
<text transform="translate(323.68 894.85) rotate(-90) scale(1 1.04)">Jul-13</text>
<text transform="translate(339.91 894.85) rotate(-90) scale(1 1.04)">Oct-13</text>
<text transform="translate(356.14 894.85) rotate(-90) scale(1 1.04)">Jan-14</text>
<text transform="translate(372.36 894.85) rotate(-90) scale(1 1.04)">Apr-14</text>
<text transform="translate(388.59 894.85) rotate(-90) scale(1 1.04)">Jul-14</text>
<text transform="translate(404.82 894.85) rotate(-90) scale(1 1.04)">Oct-14</text>
<text transform="translate(421.04 894.85) rotate(-90) scale(1 1.04)">Jan-15</text>
<text transform="translate(437.27 894.85) rotate(-90) scale(1 1.04)">Apr-15</text>
<text transform="translate(453.50 894.85) rotate(-90) scale(1 1.04)">Jul-15</text>
<text transform="translate(469.73 894.85) rotate(-90) scale(1 1.04)">Oct-15</text>
<text transform="translate(485.95 894.85) rotate(-90) scale(1 1.04)">Jan-16</text>
<text transform="translate(502.18 894.85) rotate(-90) scale(1 1.04)">Apr-16</text>
</g>
<text transform="translate(20.6 823.35) rotate(-90) scale(1 1.1)" text-anchor="middle" font-family="'Liberation Sans', sans-serif" font-weight="bold" font-size="11.6" fill="#000">Positive rate (%)</text>
<path d="M239.6 757.5H256.5" stroke="#4073bb" stroke-width="1.7" fill="none"/>
<path d="M248.25 754.50L250.80 757.50L248.25 760.50L245.70 757.50Z" fill="#4577be"/>
<text transform="translate(258.5 760.2) scale(1 1.04)" font-family="'Liberation Sans', sans-serif" font-weight="bold" font-size="9.8" fill="#000">HKU1</text>
<path d="M60.60 888.00L66.01 888.00L71.42 888.00L76.83 888.00L82.24 888.00L87.64 888.00L93.05 888.00L98.46 888.00L103.87 888.00L109.28 888.00L114.69 888.00L120.10 774.91L125.51 888.00L130.92 873.54L136.33 855.24L141.73 888.00L147.14 876.11L152.55 870.07L157.96 855.79L163.37 864.03L168.78 869.70L174.19 870.80L179.60 888.00L185.01 888.00L190.42 888.00L195.82 888.00L201.23 888.00L206.64 888.00L212.05 888.00L217.46 888.00L222.87 888.00L228.28 876.47L233.69 888.00L239.10 888.00L244.51 888.00L249.91 875.56L255.32 888.00L260.73 888.00L266.14 888.00L271.55 888.00L276.96 888.00L282.37 876.84L287.78 861.10L293.19 868.97L298.60 881.05L304.00 888.00L309.41 888.00L314.82 793.57L320.23 888.00L325.64 888.00L331.05 878.48L336.46 888.00L341.87 888.00L347.28 888.00L352.69 888.00L358.10 888.00L363.50 888.00L368.91 881.23L374.32 877.93L379.73 888.00L385.14 880.50L390.55 888.00L395.96 888.00L401.37 888.00L406.78 888.00L412.19 871.71L417.59 888.00L423.00 888.00L428.41 888.00L433.82 888.00L439.23 888.00L444.64 888.00L450.05 888.00L455.46 888.00L460.87 862.20L466.28 888.00L471.68 888.00L477.09 888.00L482.50 877.20L487.91 888.00L493.32 888.00L498.73 888.00L504.14 888.00L509.55 888.00" fill="none" stroke="#4073bb" stroke-width="1.75" stroke-linejoin="round" stroke-linecap="round"/>
<path d="M60.60 884.70L63.41 888.00L60.60 891.30L57.80 888.00ZM66.01 884.70L68.81 888.00L66.01 891.30L63.20 888.00ZM71.42 884.70L74.22 888.00L71.42 891.30L68.61 888.00ZM76.83 884.70L79.63 888.00L76.83 891.30L74.02 888.00ZM82.24 884.70L85.04 888.00L82.24 891.30L79.43 888.00ZM87.64 884.70L90.45 888.00L87.64 891.30L84.84 888.00ZM93.05 884.70L95.86 888.00L93.05 891.30L90.25 888.00ZM98.46 884.70L101.27 888.00L98.46 891.30L95.66 888.00ZM103.87 884.70L106.68 888.00L103.87 891.30L101.07 888.00ZM109.28 884.70L112.09 888.00L109.28 891.30L106.48 888.00ZM114.69 884.70L117.50 888.00L114.69 891.30L111.88 888.00ZM120.10 771.61L122.90 774.91L120.10 778.21L117.29 774.91ZM125.51 884.70L128.31 888.00L125.51 891.30L122.70 888.00ZM130.92 870.24L133.72 873.54L130.92 876.84L128.11 873.54ZM136.33 851.94L139.13 855.24L136.33 858.54L133.52 855.24ZM141.73 884.70L144.54 888.00L141.73 891.30L138.93 888.00ZM147.14 872.81L149.95 876.11L147.14 879.40L144.34 876.11ZM152.55 866.77L155.36 870.07L152.55 873.37L149.75 870.07ZM157.96 852.49L160.77 855.79L157.96 859.09L155.16 855.79ZM163.37 860.73L166.18 864.03L163.37 867.33L160.57 864.03ZM168.78 866.40L171.59 869.70L168.78 873.00L165.97 869.70ZM174.19 867.50L176.99 870.80L174.19 874.10L171.38 870.80ZM179.60 884.70L182.40 888.00L179.60 891.30L176.79 888.00ZM185.01 884.70L187.81 888.00L185.01 891.30L182.20 888.00ZM190.42 884.70L193.22 888.00L190.42 891.30L187.61 888.00ZM195.82 884.70L198.63 888.00L195.82 891.30L193.02 888.00ZM201.23 884.70L204.04 888.00L201.23 891.30L198.43 888.00ZM206.64 884.70L209.45 888.00L206.64 891.30L203.84 888.00ZM212.05 884.70L214.86 888.00L212.05 891.30L209.25 888.00ZM217.46 884.70L220.27 888.00L217.46 891.30L214.66 888.00ZM222.87 884.70L225.67 888.00L222.87 891.30L220.06 888.00ZM228.28 873.17L231.08 876.47L228.28 879.77L225.47 876.47ZM233.69 884.70L236.49 888.00L233.69 891.30L230.88 888.00ZM239.10 884.70L241.90 888.00L239.10 891.30L236.29 888.00ZM244.51 884.70L247.31 888.00L244.51 891.30L241.70 888.00ZM249.91 872.26L252.72 875.56L249.91 878.86L247.11 875.56ZM255.32 884.70L258.13 888.00L255.32 891.30L252.52 888.00ZM260.73 884.70L263.54 888.00L260.73 891.30L257.93 888.00ZM266.14 884.70L268.95 888.00L266.14 891.30L263.34 888.00ZM271.55 884.70L274.36 888.00L271.55 891.30L268.75 888.00ZM276.96 884.70L279.76 888.00L276.96 891.30L274.15 888.00ZM282.37 873.54L285.17 876.84L282.37 880.14L279.56 876.84ZM287.78 857.80L290.58 861.10L287.78 864.40L284.97 861.10ZM293.19 865.67L295.99 868.97L293.19 872.27L290.38 868.97ZM298.60 877.75L301.40 881.05L298.60 884.35L295.79 881.05ZM304.00 884.70L306.81 888.00L304.00 891.30L301.20 888.00ZM309.41 884.70L312.22 888.00L309.41 891.30L306.61 888.00ZM314.82 790.27L317.63 793.57L314.82 796.87L312.02 793.57ZM320.23 884.70L323.04 888.00L320.23 891.30L317.43 888.00ZM325.64 884.70L328.45 888.00L325.64 891.30L322.84 888.00ZM331.05 875.18L333.86 878.48L331.05 881.78L328.25 878.48ZM336.46 884.70L339.26 888.00L336.46 891.30L333.65 888.00ZM341.87 884.70L344.67 888.00L341.87 891.30L339.06 888.00ZM347.28 884.70L350.08 888.00L347.28 891.30L344.47 888.00ZM352.69 884.70L355.49 888.00L352.69 891.30L349.88 888.00ZM358.10 884.70L360.90 888.00L358.10 891.30L355.29 888.00ZM363.50 884.70L366.31 888.00L363.50 891.30L360.70 888.00ZM368.91 877.93L371.72 881.23L368.91 884.53L366.11 881.23ZM374.32 874.63L377.13 877.93L374.32 881.23L371.52 877.93ZM379.73 884.70L382.54 888.00L379.73 891.30L376.93 888.00ZM385.14 877.20L387.94 880.50L385.14 883.80L382.33 880.50ZM390.55 884.70L393.35 888.00L390.55 891.30L387.74 888.00ZM395.96 884.70L398.76 888.00L395.96 891.30L393.15 888.00ZM401.37 884.70L404.17 888.00L401.37 891.30L398.56 888.00ZM406.78 884.70L409.58 888.00L406.78 891.30L403.97 888.00ZM412.19 868.41L414.99 871.71L412.19 875.01L409.38 871.71ZM417.59 884.70L420.40 888.00L417.59 891.30L414.79 888.00ZM423.00 884.70L425.81 888.00L423.00 891.30L420.20 888.00ZM428.41 884.70L431.22 888.00L428.41 891.30L425.61 888.00ZM433.82 884.70L436.63 888.00L433.82 891.30L431.02 888.00ZM439.23 884.70L442.04 888.00L439.23 891.30L436.43 888.00ZM444.64 884.70L447.44 888.00L444.64 891.30L441.83 888.00ZM450.05 884.70L452.85 888.00L450.05 891.30L447.24 888.00ZM455.46 884.70L458.26 888.00L455.46 891.30L452.65 888.00ZM460.87 858.90L463.67 862.20L460.87 865.50L458.06 862.20ZM466.28 884.70L469.08 888.00L466.28 891.30L463.47 888.00ZM471.68 884.70L474.49 888.00L471.68 891.30L468.88 888.00ZM477.09 884.70L479.90 888.00L477.09 891.30L474.29 888.00ZM482.50 873.90L485.31 877.20L482.50 880.50L479.70 877.20ZM487.91 884.70L490.72 888.00L487.91 891.30L485.11 888.00ZM493.32 884.70L496.12 888.00L493.32 891.30L490.51 888.00ZM498.73 884.70L501.53 888.00L498.73 891.30L495.92 888.00ZM504.14 884.70L506.94 888.00L504.14 891.30L501.33 888.00ZM509.55 884.70L512.35 888.00L509.55 891.30L506.74 888.00Z" fill="#4577be"/>
</g>
</svg>
</body></html>
